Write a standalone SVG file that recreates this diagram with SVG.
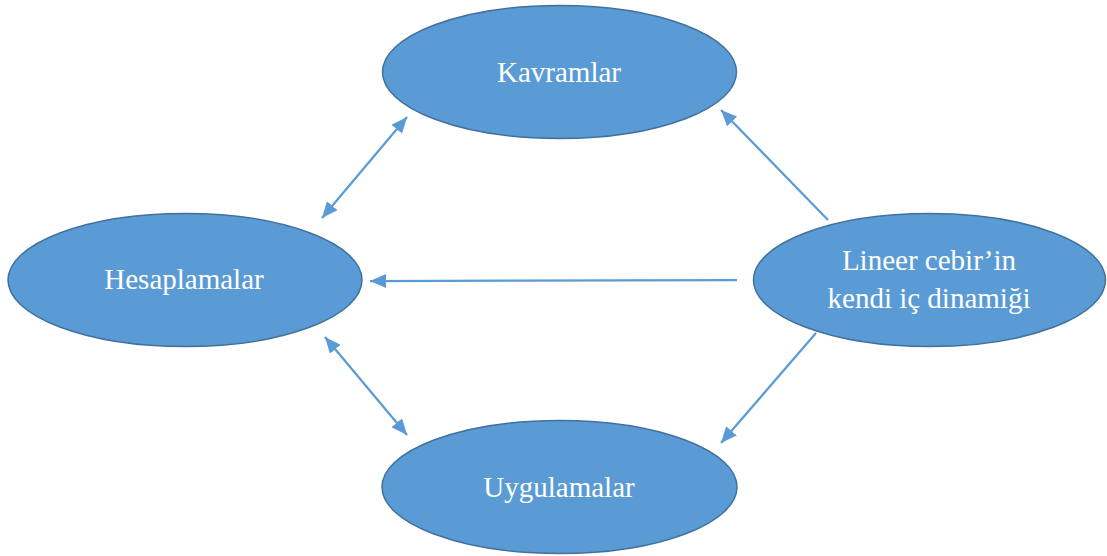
<svg xmlns="http://www.w3.org/2000/svg" width="1107" height="556" viewBox="0 0 1107 556">
<style>
.node{fill:#5B9BD5;stroke:#41719C;stroke-width:1.5}
.lbl{font-family:"Liberation Serif","Times New Roman",serif;font-size:29px;fill:#ffffff;text-anchor:middle}
.conn{stroke:#5B9BD5;stroke-width:2.25;fill:none}
</style>
<defs>
<marker id="ah" viewBox="0 0 16 14" refX="16" refY="7" markerUnits="userSpaceOnUse" markerWidth="16" markerHeight="14" orient="auto-start-reverse">
<path d="M0,0 L16,7 L0,14 z" fill="#5B9BD5"/>
</marker>
</defs>
<rect width="1107" height="556" fill="#ffffff"/>
<g id="connectors">
<line class="conn" x1="407" y1="117" x2="322" y2="218" marker-start="url(#ah)" marker-end="url(#ah)"/>
<line class="conn" x1="828" y1="220" x2="721" y2="110" marker-end="url(#ah)"/>
<line class="conn" x1="737" y1="280" x2="370" y2="281" marker-end="url(#ah)"/>
<line class="conn" x1="816" y1="333" x2="721" y2="443" marker-end="url(#ah)"/>
<line class="conn" x1="325" y1="337" x2="407" y2="435" marker-start="url(#ah)" marker-end="url(#ah)"/>
</g>
<g id="kavramlar">
<ellipse class="node" cx="559.5" cy="72" rx="177" ry="66.5"/>
<text class="lbl" x="559" y="82">Kavramlar</text>
</g>
<g id="hesaplamalar">
<ellipse class="node" cx="185" cy="280" rx="177" ry="66.5"/>
<text class="lbl" x="184" y="289">Hesaplamalar</text>
</g>
<g id="lineer">
<ellipse class="node" cx="929.5" cy="280" rx="176" ry="66.5"/>
<text class="lbl" x="929" y="270">Lineer cebir’in</text>
<text class="lbl" x="929" y="308">kendi iç dinamiği</text>
</g>
<g id="uygulamalar">
<ellipse class="node" cx="559.5" cy="487" rx="177.5" ry="66.5"/>
<text class="lbl" x="559" y="497">Uygulamalar</text>
</g>
</svg>
